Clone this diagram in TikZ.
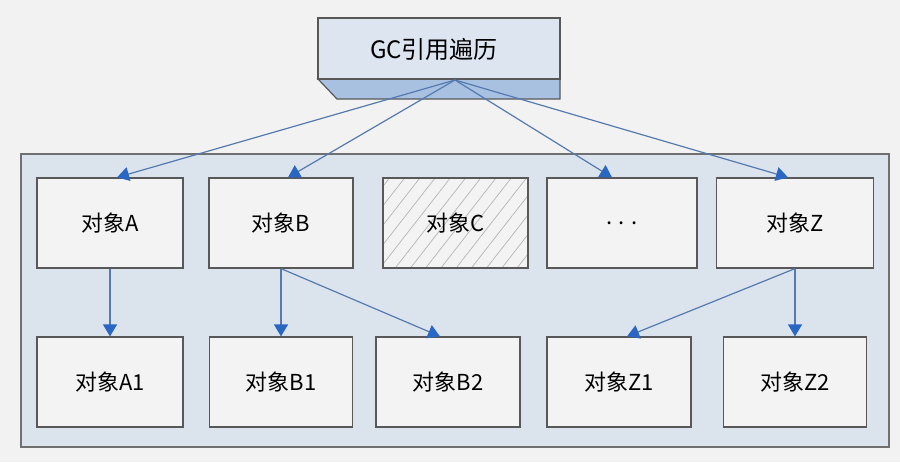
\documentclass[tikz,border=0pt]{standalone}
\usepackage{fontspec}
\setmainfont{Noto Sans CJK SC}
\usetikzlibrary{arrows.meta,patterns.meta}
\definecolor{pagegray}{RGB}{242,242,242}
\definecolor{panelfill}{RGB}{219,227,237}
\definecolor{panelline}{RGB}{112,112,112}
\definecolor{boxfill}{RGB}{243,243,243}
\definecolor{boxline}{RGB}{88,88,88}
\definecolor{facefill}{RGB}{221,229,241}
\definecolor{bandfill}{RGB}{168,193,225}
\definecolor{linkblue}{RGB}{84,122,176}
\definecolor{tipblue}{RGB}{42,102,196}
\definecolor{hatchgray}{RGB}{180,180,180}
\begin{document}
\begin{tikzpicture}
[x=0.5pt,y=-0.5pt,
  objdecorate/.style={shape=rectangle,draw=boxline,line width=0.6pt,fill=boxfill,
    minimum height=45pt,inner sep=0pt,font=\fontsize{11}{13}\selectfont},%
  hatchdecorate/.style={objdecorate,preaction={fill=boxfill},
    pattern={Lines[angle=52,distance=6pt,line width=0.35pt]},pattern color=hatchgray},%
  arrowdecorate/.style={-{Triangle[width=7pt,length=6pt,color=tipblue]},draw=linkblue,line width=0.6pt}]
\useasboundingbox (0,0) rectangle (900,462);
\fill[pagegray] (0,0) rectangle (900,462);
%% panel round the objects
\draw[panelline,line width=0.8pt,fill=panelfill] (21,154) rectangle (889,447);
%% GC root box
\draw[boxline,line width=0.6pt,fill=bandfill] (318,79) -- (337,99) -- (560,99) -- (560,79) -- cycle;
\draw[boxline,line width=0.6pt,fill=facefill] (318,18) rectangle (560,79);
\node (gc) at (434,49) [font=\fontsize{12}{14}\selectfont] {GC引用遍历};
\coordinate (src) at (455,80);
%% nodes or objects
\foreach \nodename/\x/\y/\w/\txt in {a/110/223/146/对象A, b/281/223/144/对象B,
  dots/622/223/150/. . ., z/795/223/157/对象Z,
  a1/110/382/146/对象A1, b1/281/382/143/对象B1, b2/448/382/144/对象B2,
  z1/619/382/144/对象Z1, z2/795/382/143/对象Z2} {
  \node (\nodename) at (\x,\y) [objdecorate,minimum width=\w*0.5pt] {\txt};
}
\node (c) at (455.5,223) [hatchdecorate,minimum width=72.5pt] {对象C};
%% edges or references
\path
\foreach \startnode/\endnode/\dx in {src/a.north/3.5, src/b.north/3.5,
  src/dots.north/-5, src/z.north/-3.5,
  a.south/a1.north/0, b.south/b1.north/0, b.south/b2.north/-4,
  z.south/z2.north/0, z.south/z1.north/4} {
  (\startnode) edge[arrowdecorate] ([xshift=\dx pt]\endnode)
};
\end{tikzpicture}
\end{document}
